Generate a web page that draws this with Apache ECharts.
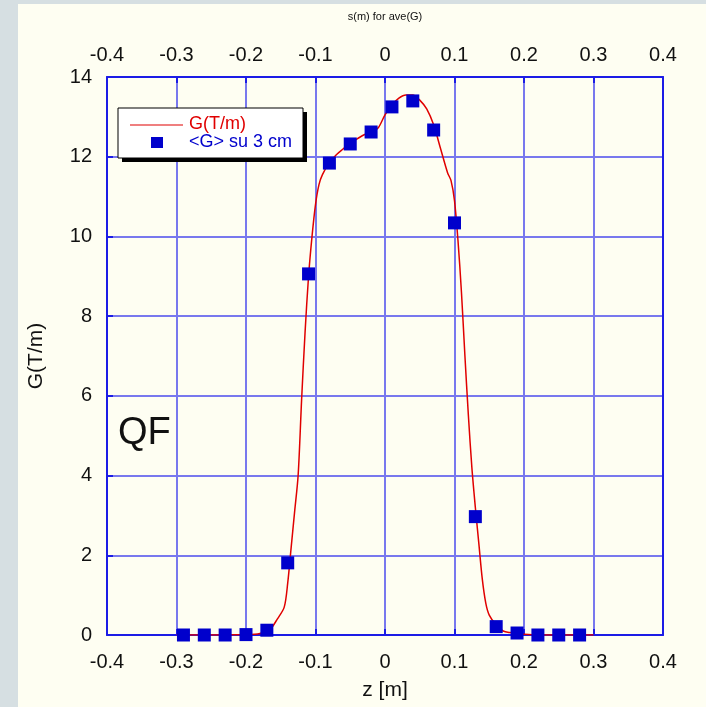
<!DOCTYPE html>
<html><head><meta charset="utf-8">
<script src="https://cdn.jsdelivr.net/npm/echarts@6/dist/echarts.min.js"></script>
<style>html,body{margin:0;padding:0;background:#d6dfe2}#c{width:706px;height:707px}</style>
</head><body><div id="c"></div>
<script>
// Measured averages <G> over 3 cm
var avgZ = [-0.29,-0.26,-0.23,-0.20,-0.17,-0.14,-0.11,-0.08,-0.05,-0.02,0.01,0.04,0.07,0.10,0.13,0.16,0.19,0.22,0.25,0.28];
var avgG = [0,0,0,0.01,0.12,1.81,9.06,11.84,12.32,12.62,13.25,13.40,12.67,10.34,2.97,0.21,0.05,0,0,0];
// Gradient profile G(T/m)
var curveZ = [-0.30,-0.25,-0.20,-0.18,-0.165,-0.155,-0.145,-0.14,-0.135,-0.13,-0.125,-0.12,-0.115,-0.11,-0.105,-0.10,-0.095,-0.09,-0.08,-0.07,-0.06,-0.05,-0.04,-0.03,-0.02,-0.01,0.0,0.01,0.02,0.03,0.04,0.05,0.06,0.07,0.08,0.09,0.095,0.10,0.105,0.11,0.115,0.12,0.125,0.13,0.135,0.14,0.145,0.15,0.16,0.17,0.18,0.20,0.22,0.30];
var curveG = [0,0,0.01,0.04,0.15,0.4,0.7,1.3,2.2,3.1,4.0,5.9,7.6,9.0,10.0,10.8,11.3,11.55,11.85,12.05,12.2,12.35,12.45,12.55,12.62,12.72,13.05,13.3,13.47,13.55,13.55,13.42,13.2,12.8,12.2,11.6,11.4,10.9,9.9,8.6,7.0,5.5,4.2,3.2,2.3,1.4,0.8,0.5,0.25,0.1,0.06,0.02,0,0];
var xTicks = {min:-0.4, max:0.4, step:0.1};
var yTicks = {min:0, max:14, step:2};

var chart = echarts.init(document.getElementById('c'), null, {renderer:'canvas'});
var font = '"Liberation Sans", Arial, sans-serif';
var blue = '#1c1ce6';
var gridCol = '#7878ee';
function zip(a,b){return a.map(function(v,i){return [v,b[i]];});}
var lbl = {fontFamily:font, fontSize:20, color:'#111'};
chart.setOption({
  backgroundColor:'#d6dfe2',
  animation:false,
  grid:{left:107, right:43, top:77, bottom:72, show:false},
  xAxis:[{
    type:'value', position:'bottom', min:xTicks.min, max:xTicks.max, interval:xTicks.step,
    axisLine:{show:true, onZero:false, lineStyle:{color:blue, width:2}},
    axisTick:{show:true, inside:true, length:6, lineStyle:{color:blue, width:2}},
    axisLabel:Object.assign({margin:17}, lbl),
    splitLine:{show:true, lineStyle:{color:gridCol, width:2}}
  },{
    type:'value', position:'top', min:xTicks.min, max:xTicks.max, interval:xTicks.step,
    axisLine:{show:true, onZero:false, lineStyle:{color:blue, width:2}},
    axisTick:{show:true, inside:true, length:6, lineStyle:{color:blue, width:2}},
    axisLabel:Object.assign({margin:12}, lbl),
    splitLine:{show:false}
  }],
  yAxis:[{
    type:'value', position:'left', min:yTicks.min, max:yTicks.max, interval:yTicks.step,
    axisLine:{show:true, onZero:false, lineStyle:{color:blue, width:2}},
    axisTick:{show:true, inside:true, length:6, lineStyle:{color:blue, width:2}},
    axisLabel:Object.assign({margin:15}, lbl),
    splitLine:{show:true, lineStyle:{color:gridCol, width:2}}
  },{
    type:'value', position:'right', min:yTicks.min, max:yTicks.max, interval:yTicks.step,
    axisLine:{show:true, onZero:false, lineStyle:{color:blue, width:2}},
    axisTick:{show:false}, axisLabel:{show:false}, splitLine:{show:false}
  }],
  series:[{
    type:'line', name:'G(T/m)', data:zip(curveZ,curveG), showSymbol:false, smooth:0.3,
    lineStyle:{color:'#e00000', width:1.5}, z:3
  },{
    type:'scatter', name:'<G> su 3 cm', data:zip(avgZ,avgG), symbol:'rect', symbolSize:13,
    itemStyle:{color:'#0000cc', opacity:1}, z:4
  }],
  graphic:[
    {type:'rect', z:-10, silent:true, shape:{x:18,y:4,width:688,height:703}, style:{fill:'#fefef2'}},
    {type:'text', x:385, y:17, style:{text:'s(m) for ave(G)', font:'11px '+font, fill:'#111', align:'center', verticalAlign:'middle'}},
    {type:'text', x:385, y:690, style:{text:'z [m]', font:'21px '+font, fill:'#111', align:'center', verticalAlign:'middle'}},
    {type:'text', x:36, y:356, rotation:Math.PI/2, style:{text:'G(T/m)', font:'21px '+font, fill:'#111', align:'center', verticalAlign:'middle'}},
    {type:'text', x:118, y:434, style:{text:'QF', font:'38px '+font, fill:'#111', align:'left', verticalAlign:'middle'}},
    {type:'rect', z:50, shape:{x:122,y:112,width:185,height:50}, style:{fill:'#000'}},
    {type:'rect', z:51, shape:{x:118,y:108,width:185,height:50}, style:{fill:'#fff', stroke:'#000', lineWidth:1}},
    {type:'line', z:52, shape:{x1:130,y1:125,x2:183,y2:125}, style:{stroke:'#e00000', lineWidth:1.2}},
    {type:'rect', z:52, shape:{x:151,y:137,width:12,height:11}, style:{fill:'#0000cc'}},
    {type:'text', z:52, x:189, y:124, style:{text:'G(T/m)', font:'18px '+font, fill:'#e00000', align:'left', verticalAlign:'middle'}},
    {type:'text', z:52, x:189, y:142, style:{text:'<G> su 3 cm', font:'18px '+font, fill:'#0000cc', align:'left', verticalAlign:'middle'}}
  ]
});
</script></body></html>
